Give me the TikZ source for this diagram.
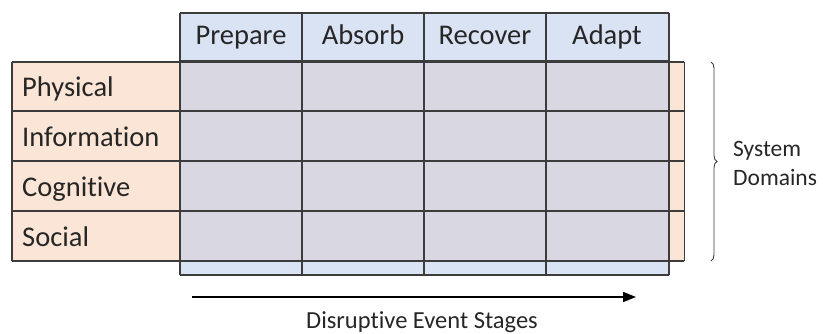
\documentclass[tikz,border=0pt]{standalone}
\usepackage{fontspec}
\setmainfont{Carlito}[Ligatures=NoCommon]
\usetikzlibrary{decorations.pathreplacing,arrows.meta}
\definecolor{hdrblue}{HTML}{DAE3F3}
\definecolor{roworange}{HTML}{FBE5D6}
\definecolor{overlapc}{HTML}{D8D7E2}
\definecolor{gridc}{HTML}{3C3C3C}
\definecolor{txtc}{HTML}{262626}
\begin{document}
\begin{tikzpicture}[x=1pt,y=-1pt,
  gridline/.style={draw=gridc,line width=1.4pt},
  biglabel/.style={text=txtc,font=\fontsize{28.5}{30}\selectfont,inner sep=0pt,anchor=base},
  smalllabel/.style={text=txtc,font=\fontsize{23.5}{29}\selectfont,inner sep=0pt}]
\useasboundingbox (0,0) rectangle (823,334);
% fills
\fill[roworange] (12,62) rectangle (684,261);
\fill[hdrblue] (180,13) rectangle (669,275);
\fill[overlapc] (180,62) rectangle (669,261);
% row grid
\foreach \y in {62,111,161,211,261} \draw[gridline] (12,\y) -- (684,\y);
\draw[gridline] (12,62) -- (12,261);
\draw[gridline,line width=1pt] (684,62) -- (684,261);
% column grid
\foreach \y in {13,61,275} \draw[gridline] (180,\y) -- (669,\y);
\foreach \x in {180,302,424,546,669} \draw[gridline] (\x,13) -- (\x,275);
% headers
\node[biglabel] (hprep) at (241,45) {Prepare};
\node[biglabel] (habs) at (363,45) {Absorb};
\node[biglabel] (hrec) at (485,45) {Recover};
\node[biglabel] (hada) at (607,45) {Adapt};
% rows
\node[biglabel,anchor=base west] (rphys) at (22,97) {Physical};
\node[biglabel,anchor=base west] (rinfo) at (22,147) {Information};
\node[biglabel,anchor=base west] (rcog) at (22,197) {Cognitive};
\node[biglabel,anchor=base west] (rsoc) at (22,247) {Social};
% brace
\coordinate (btop) at (711,62);
\coordinate (bbot) at (711,261);
\draw[gridc,line width=0.9pt,decorate,decoration={brace,amplitude=6pt}] (btop) -- (bbot);
\node[smalllabel,anchor=west,align=left] (sysdom) at (733,163) {System\\Domains};
% arrow
\coordinate (astart) at (192,297);
\coordinate (aend) at (636,297);
\draw[black,line width=1.6pt,-{Triangle[length=13pt,width=10pt]}] (astart) -- (aend);
\node[smalllabel,font=\fontsize{24.5}{29}\selectfont] (stages) at (422,322) {Disruptive Event Stages};
\end{tikzpicture}
\end{document}
